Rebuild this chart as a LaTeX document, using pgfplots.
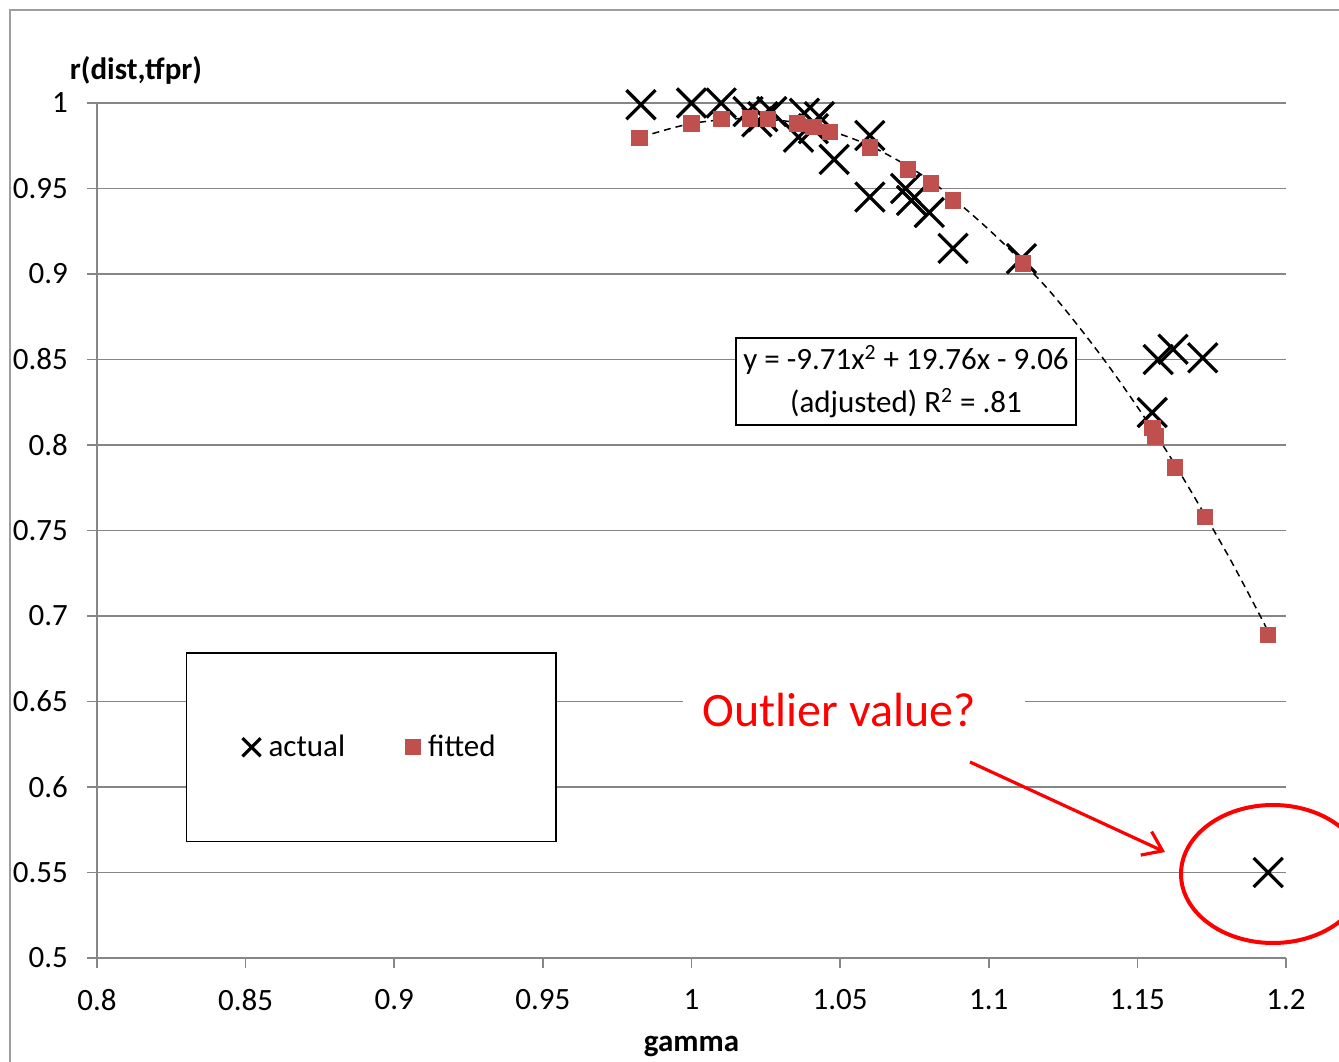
\documentclass[border=0pt]{standalone}
\usepackage{pgfplots}
\pgfplotsset{compat=1.18}
\usepackage{fontspec}
\setmainfont{Carlito}
\usetikzlibrary{arrows.meta}

\definecolor{fitred}{RGB}{192,80,77}
\definecolor{gridgray}{RGB}{134,134,134}
\definecolor{notered}{RGB}{255,0,0}
\newcommand\lbl{\fontsize{15.5}{18}\selectfont}

\begin{document}
\begin{tikzpicture}
\clip (-48.5pt,-51.5pt) rectangle (621pt,479pt);
% outer chart frame (cut at right and bottom)
\draw[gridgray!80, line width=1pt] (-43.5pt,-80pt) -- (-43.5pt,474pt) -- (680pt,474pt);
\begin{axis}[
    at={(0pt,0pt)}, anchor=south west,
    scale only axis, width=594.5pt, height=427.5pt,
    xmin=0.8, xmax=1.2, ymin=0.5, ymax=1,
    xtick={0.8,0.85,0.9,0.95,1,1.05,1.1,1.15,1.2},
    ytick={0.5,0.55,0.6,0.65,0.7,0.75,0.8,0.85,0.9,0.95,1},
    axis x line*=bottom, axis y line*=left,
    axis line style={gridgray, line width=0.8pt, -},
    tick align=outside, major tick length=5pt,
    tick style={gridgray, line width=0.8pt},
    ymajorgrids, grid style={gridgray, line width=0.8pt},
    /pgf/number format/.cd, fixed, precision=2, assume math mode=true,
    /pgfplots/.cd,
    ticklabel style={font=\lbl},
    xticklabel style={yshift=-7pt},
    yticklabel style={xshift=-6pt},
    xlabel={\textbf{gamma}},
    ylabel={\textbf{r(dist,tfpr)}},
    every axis x label/.style={at={(axis description cs:0.5,-0.103)}, anchor=center, font=\lbl},
    every axis y label/.style={at={(axis description cs:0.0328,1.0386)}, anchor=center, font=\lbl},
    legend style={at={(0.2305,0.2465)}, anchor=center, draw=black, line width=0.9pt,
        fill=white, font=\lbl, inner xsep=28pt, inner ysep=39pt,
        /tikz/every odd column/.append style={column sep=2pt},
        /tikz/every even column/.append style={column sep=28pt}},
    legend columns=2,
]
\addplot[only marks, mark=x, mark size=10.3pt, black, line width=1.6pt,
    legend image code/.code={\draw[black, line width=1.6pt, mark=x, mark size=6.4pt, only marks] plot coordinates {(0pt,0pt)};}]
coordinates {
(0.983,0.999) (1.000,1.000) (1.010,1.000) (1.019,0.995) (1.022,0.989)
(1.024,0.992) (1.027,0.995) (1.036,0.980) (1.038,0.994) (1.041,0.985)
(1.043,0.992) (1.048,0.967) (1.060,0.981) (1.060,0.945) (1.072,0.950)
(1.074,0.943) (1.080,0.936) (1.088,0.915) (1.111,0.909) (1.155,0.819)
(1.157,0.850) (1.162,0.856) (1.172,0.851) (1.194,0.550)
};
\addlegendentry{actual}
\addplot[only marks, mark=square*, mark size=3.9pt, fitred, mark options={draw=fitred, fill=fitred, line width=0pt},
    legend image code/.code={\draw[fitred, mark=square*, mark size=3.75pt, only marks] plot coordinates {(0pt,0pt)};}]
coordinates {
(0.9825,0.9795) (1.000,0.988) (1.010,0.9906) (1.0197,0.991) (1.0257,0.9906)
(1.0355,0.988) (1.041,0.986) (1.0466,0.983) (1.060,0.974) (1.0728,0.961)
(1.0806,0.953) (1.088,0.943) (1.1115,0.906) (1.155,0.810) (1.156,0.805)
(1.1627,0.787) (1.1727,0.758) (1.194,0.689)
};
\addlegendentry{fitted}
% polynomial trend line
\addplot[forget plot, black, line width=0.75pt, dash pattern=on 3.5pt off 2.5pt, smooth]
coordinates {
(0.983,0.980) (1.000,0.988) (1.020,0.991) (1.040,0.987) (1.060,0.975)
(1.080,0.955) (1.100,0.926) (1.120,0.891) (1.140,0.847) (1.160,0.796)
(1.180,0.737) (1.194,0.691)
};
\end{axis}
% trend line equation
\node[draw=black, line width=0.9pt, fill=white, minimum width=170pt, minimum height=43.5pt,
      align=center, font=\fontsize{15.5}{21.5}\selectfont, inner sep=0pt]
  at (404.5pt,288.25pt) {y = -9.71x\textsuperscript{2} + 19.76x - 9.06\\(adjusted) R\textsuperscript{2} = .81};
% annotation
\fill[white] (293pt,118pt) rectangle (464pt,139pt);
\node[notered, font=\fontsize{24}{28}\selectfont, inner sep=0pt] at (371pt,124pt) {Outlier value?};
\draw[notered, line width=1.6pt, -{Straight Barb[length=9pt,width=13pt]}] (436.5pt,98pt) -- (534pt,53pt);
\draw[notered, line width=2pt] (588pt,42pt) ellipse [x radius=46pt, y radius=34.5pt];
\end{tikzpicture}
\end{document}
